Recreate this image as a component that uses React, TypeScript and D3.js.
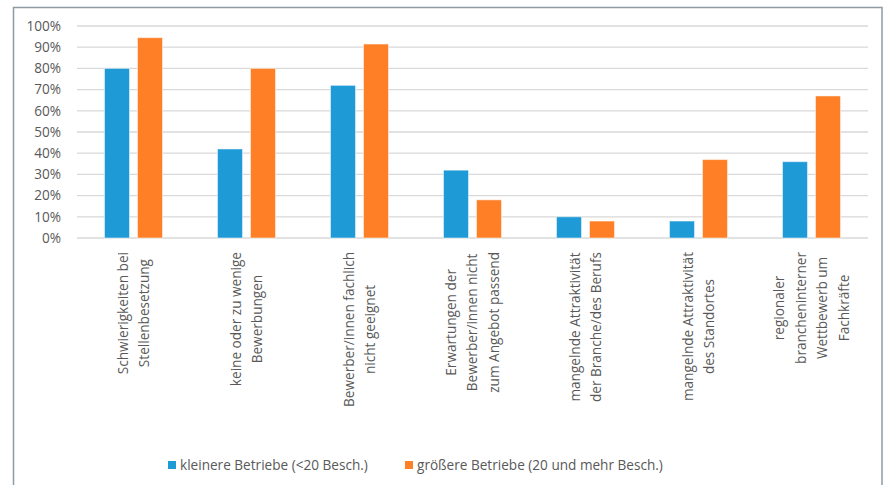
import React, { useEffect, useRef } from "react";
import * as d3 from "d3";

const categories: string[][] = [
  ["Schwierigkeiten bei", "Stellenbesetzung"],
  ["keine oder zu wenige", "Bewerbungen"],
  ["Bewerber/innen fachlich", "nicht geeignet"],
  ["Erwartungen der", "Bewerber/innen nicht", "zum Angebot passend"],
  ["mangelnde Attraktivität", "der Branche/des Berufs"],
  ["mangelnde Attraktivität", "des Standortes"],
  ["regionaler", "brancheninterner", "Wettbewerb um", "Fachkräfte"],
];
const seriesNames = ["kleinere Betriebe (<20 Besch.)", "größere Betriebe (20 und mehr Besch.)"];
const small = [0.80, 0.42, 0.72, 0.32, 0.10, 0.08, 0.36];
const large = [0.945, 0.80, 0.915, 0.18, 0.08, 0.37, 0.67];
const yTicks = [0, 0.1, 0.2, 0.3, 0.4, 0.5, 0.6, 0.7, 0.8, 0.9, 1.0];
const colors = ["#1e9bd7", "#fe7f26"];

const W = 885, H = 485;
const FONT = "'Open Sans', 'Noto Sans', sans-serif";
const TXT = "#595959";
const FS = 13.6;

export default function App() {
  const ref = useRef<SVGSVGElement>(null);
  useEffect(() => {
    const svg = d3.select(ref.current);
    svg.selectAll("*").remove();

    // outer border
    svg.append("rect").attr("x", 13.5).attr("y", 7.5).attr("width", 868.5).attr("height", 490)
      .attr("fill", "#fff").attr("stroke", "#8e9ba5").attr("stroke-width", 1.5);

    const x0 = d3.scaleBand<number>().domain(d3.range(categories.length)).range([77, 868]).padding(0);
    const bw = x0.bandwidth();
    const x1 = d3.scaleBand<number>().domain([0, 1]).range([bw / 2 - 29, bw / 2 + 29]).paddingInner(8 / 33).paddingOuter(0);
    const y = d3.scaleLinear().domain([0, 1]).range([238, 26]);

    // grid
    svg.append("g").selectAll("line").data(yTicks).join("line")
      .attr("x1", 77).attr("x2", 868)
      .attr("y1", (d) => y(d)).attr("y2", (d) => y(d))
      .attr("stroke", "#d9d9d9").attr("stroke-width", 1.3);

    // y labels
    svg.append("g").selectAll("text").data(yTicks).join("text")
      .attr("x", 61).attr("y", (d) => y(d)).attr("dy", "0.35em")
      .attr("text-anchor", "end").attr("font-family", FONT).attr("font-size", FS)
      .attr("fill", TXT).text((d) => d3.format(".0%")(d));

    // bars
    const series = [small, large];
    series.forEach((vals, si) => {
      svg.append("g").selectAll("rect").data(vals).join("rect")
        .attr("x", (_d, i) => (x0(i) as number) + (x1(si) as number))
        .attr("width", x1.bandwidth())
        .attr("y", (d) => y(d))
        .attr("height", (d) => y(0) - y(d))
        .attr("fill", colors[si])
        .attr("stroke", "#ffffff").attr("stroke-opacity", 0.5).attr("stroke-width", 1);
    });

    // x labels
    const lineH = 21.5;
    categories.forEach((lines, i) => {
      const cx = (x0(i) as number) + bw / 2;
      const g = svg.append("g");
      const texts = lines.map((ln) =>
        g.append("text").attr("font-family", FONT).attr("font-size", FS).attr("fill", TXT)
          .attr("text-anchor", "middle").text(ln)
      );
      const maxLen = d3.max(texts, (t) => (t.node() as SVGTextElement).getComputedTextLength()) || 0;
      const centerY = 252 + maxLen / 2;
      const n = lines.length;
      texts.forEach((t, li) => {
        const lx = cx + (li - (n - 1) / 2) * lineH;
        t.attr("transform", `translate(${lx},${centerY}) rotate(-90)`).attr("dy", "0.35em");
      });
    });

    // legend
    const leg = [{ x: 168, i: 0 }, { x: 405, i: 1 }];
    leg.forEach(({ x, i }) => {
      svg.append("rect").attr("x", x).attr("y", 461).attr("width", 8).attr("height", 8).attr("fill", colors[i]);
      svg.append("text").attr("x", x + 12).attr("y", 465).attr("dy", "0.35em")
        .attr("font-family", FONT).attr("font-size", FS).attr("fill", TXT).text(seriesNames[i]);
    });
  }, []);
  return (
    <svg ref={ref} width={W} height={H} style={{ position: "absolute", left: 0, top: 0, background: "#fff" }} />
  );
}
